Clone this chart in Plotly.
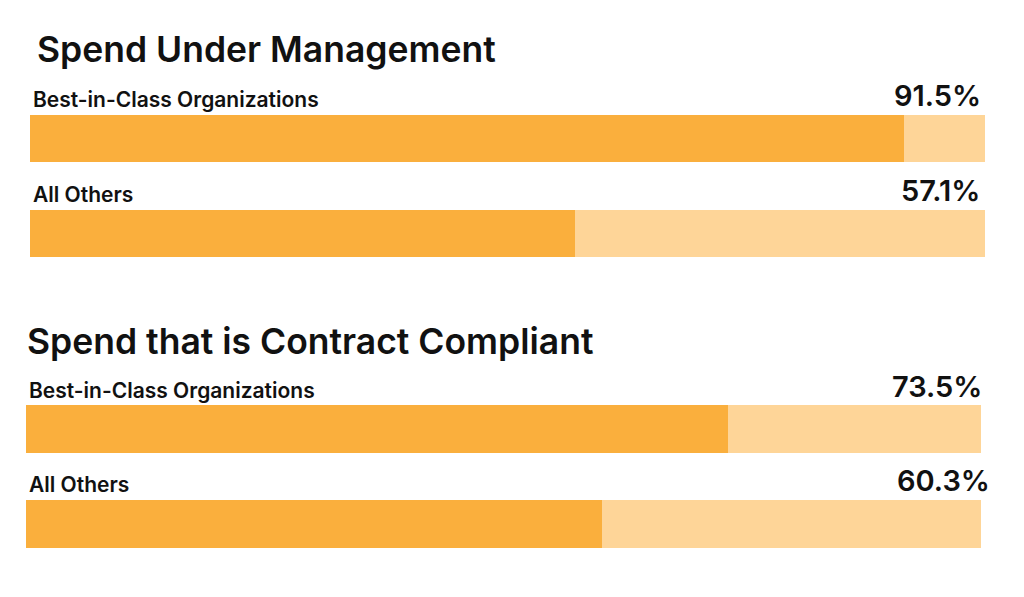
import plotly.graph_objects as go

panel_titles = ["Spend Under Management", "Spend that is Contract Compliant"]
groups = ["Best-in-Class Organizations", "All Others"]
values_top = [91.5, 57.1]
values_bottom = [73.5, 60.3]
full_scale = 100

DARK = "#FAAF3D"
LIGHT = "#FED598"
TEXT = "#111111"
FONT = "Inter"

W, H = 1024, 597

fig = go.Figure()

panels = [
    dict(vals=values_top, xa="x", ya="y", xd=[30 / W, 985 / W], yd=[1 - 280.5 / H, 1 - 90.5 / H],
         pct_shift=[-2, -3]),
    dict(vals=values_bottom, xa="x2", ya="y2", xd=[26 / W, 981 / W], yd=[1 - 570.5 / H, 1 - 381.5 / H],
         pct_shift=[3, 11]),
]

for p in panels:
    fig.add_trace(go.Bar(y=groups, x=[full_scale] * len(groups), orientation="h",
                         marker=dict(color=LIGHT, line=dict(width=0)), width=0.505,
                         xaxis=p["xa"], yaxis=p["ya"], hoverinfo="skip", showlegend=False))
    fig.add_trace(go.Bar(y=groups, x=p["vals"], orientation="h",
                         marker=dict(color=DARK, line=dict(width=0)), width=0.505,
                         xaxis=p["xa"], yaxis=p["ya"], showlegend=False))
    for g, v, s in zip(groups, p["vals"], p["pct_shift"]):
        fig.add_annotation(x=0, y=g, xref=p["xa"], yref=p["ya"], text=g,
                           xanchor="left", yanchor="bottom", yshift=24, xshift=1,
                           showarrow=False, font=dict(family=FONT, size=21, weight=600, color=TEXT))
        fig.add_annotation(x=full_scale, y=g, xref=p["xa"], yref=p["ya"], text=f"{v}%",
                           xanchor="right", yanchor="bottom", yshift=23, xshift=s,
                           showarrow=False, font=dict(family=FONT, size=29, weight=600, color=TEXT))

fig.add_annotation(x=35 / W, y=1 - 50 / H, xref="paper", yref="paper", text=panel_titles[0],
                   xanchor="left", yanchor="middle", showarrow=False,
                   font=dict(family=FONT, size=35.5, weight=600, color=TEXT))
fig.add_annotation(x=25 / W, y=1 - 341 / H, xref="paper", yref="paper", text=panel_titles[1],
                   xanchor="left", yanchor="middle", showarrow=False,
                   font=dict(family=FONT, size=35.5, weight=600, color=TEXT))

axis_common = dict(showgrid=False, zeroline=False, showticklabels=False, showline=False, fixedrange=True)
fig.update_layout(
    width=W, height=H, margin=dict(l=0, r=0, t=0, b=0),
    paper_bgcolor="white", plot_bgcolor="white", barmode="overlay", bargap=0,
    xaxis=dict(domain=panels[0]["xd"], range=[0, full_scale], anchor="y", **axis_common),
    yaxis=dict(domain=panels[0]["yd"], range=[1.5, -0.5], anchor="x", **axis_common),
    xaxis2=dict(domain=panels[1]["xd"], range=[0, full_scale], anchor="y2", **axis_common),
    yaxis2=dict(domain=panels[1]["yd"], range=[1.5, -0.5], anchor="x2", **axis_common),
)

fig.write_html("out.html", config={"displayModeBar": False},
               post_script="document.body.style.margin='0';document.body.style.overflow='hidden';")
